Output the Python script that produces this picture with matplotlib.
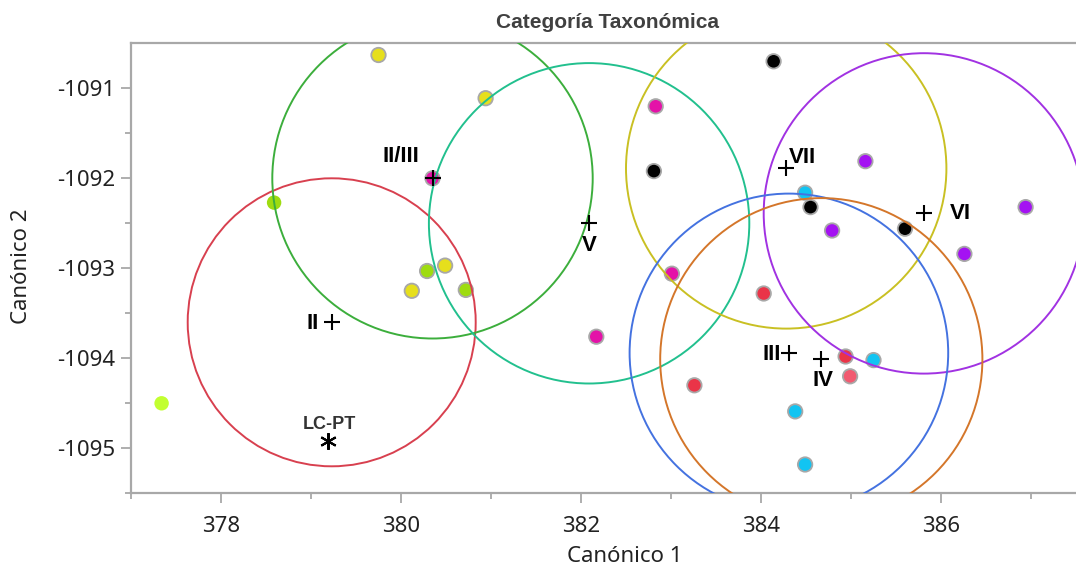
import matplotlib
matplotlib.use("Agg")
import matplotlib.pyplot as plt
from matplotlib.patches import Circle

plt.rcParams["axes.unicode_minus"] = False

# Group means on the two canonical axes, with their confidence-circle radii
groups = ["II", "II/III", "V", "VII", "VI", "III", "IV"]
mean_x = [379.23, 380.35, 382.09, 384.28, 385.81, 384.31, 384.67]
mean_y = [-1093.60, -1092.00, -1092.50, -1091.89, -1092.39, -1093.94, -1094.01]
radius = [1.60, 1.78, 1.78, 1.78, 1.78, 1.77, 1.79]
circle_colors = ["#d8404f", "#3cae3c", "#22c08e", "#c9c023", "#a132e2", "#4472e0", "#d4762a"]

# Individual specimens
pt_x = [379.75, 380.94, 380.49, 380.12,
        378.59, 380.29, 380.72, 377.34,
        380.35, 382.83, 383.01, 382.17,
        384.14, 382.81, 384.55, 385.60,
        384.49, 385.25, 384.38, 384.49,
        385.16, 384.79, 386.94, 386.26,
        384.03, 383.26, 384.94, 384.99]
pt_y = [-1090.63, -1091.11, -1092.97, -1093.25,
        -1092.27, -1093.03, -1093.24, -1094.50,
        -1092.00, -1091.20, -1093.06, -1093.76,
        -1090.70, -1091.92, -1092.32, -1092.56,
        -1092.16, -1094.02, -1094.59, -1095.18,
        -1091.81, -1092.58, -1092.32, -1092.84,
        -1093.28, -1094.30, -1093.98, -1094.20]
pt_colors = ["#e6df1c"] * 4 + ["#9edc10", "#9edc10", "#9edc10", "#c2ff30"] \
    + ["#e412a8"] * 4 + ["#000000"] * 4 + ["#12c4f2"] * 4 \
    + ["#a412f2"] * 4 + ["#ea3448", "#ea3448", "#ea3448", "#f25a70"]
pt_edges = ["#a8a8a8"] * 4 + ["none", "#a8a8a8", "#a8a8a8", "none"] + ["#a8a8a8"] * 20

# Reference specimen
ref_x, ref_y, ref_label = 379.19, -1094.92, "LC-PT"

# label offsets in points and horizontal alignment
label_offsets = [(-9, -1), (-23, 16), (0, -16), (12, 8), (26, 0), (-6, -1), (1, -15)]
label_ha = ["right", "center", "center", "center", "center", "right", "center"]

fig = plt.figure(figsize=(10.76, 5.70), dpi=100)
ax = fig.add_axes([131 / 1076, 76.7 / 570, 945 / 1076, 450 / 570])

ax.scatter(pt_x, pt_y, s=108, c=pt_colors, edgecolors=pt_edges, linewidths=1.3, zorder=2)

for gx, gy, r, col in zip(mean_x, mean_y, radius, circle_colors):
    ax.add_patch(Circle((gx, gy), r, fill=False, edgecolor=col, lw=1.4, zorder=3))

ax.plot(mean_x, mean_y, ls="none", marker="+", ms=12, mew=1.5, color="black", zorder=4)
for name, gx, gy, off, ha in zip(groups, mean_x, mean_y, label_offsets, label_ha):
    ax.annotate(name, (gx, gy), xytext=off, textcoords="offset points",
                ha=ha, va="center", fontsize=16, fontweight="bold",
                family="Liberation Sans", color="black", zorder=5)

ax.plot([ref_x], [ref_y], ls="none", marker=(6, 2, 0), ms=12, mew=1.5, color="black", zorder=4)
ax.annotate(ref_label, (ref_x, ref_y), xytext=(1, 12), textcoords="offset points",
            ha="center", va="center", fontsize=13, fontweight="bold",
            family="Liberation Sans", color="#333333", zorder=5)

ax.set_xlim(377, 387.5)
ax.set_ylim(-1095.5, -1090.5)
ax.set_aspect("equal", adjustable="box")

ax.set_xticks([378, 380, 382, 384, 386])
ax.set_xticks([377, 379, 381, 383, 385, 387], minor=True)
ax.set_yticks([-1095, -1094, -1093, -1092, -1091])
ax.set_yticks([-1095.5, -1094.5, -1093.5, -1092.5, -1091.5], minor=True)
ax.tick_params(which="major", length=7.5, width=1.3, color="#a8a8a8", labelsize=16, pad=4)
ax.tick_params(axis="x", which="major", pad=9)
ax.tick_params(which="minor", length=4, width=1.3, color="#a8a8a8")
for lab in ax.get_xticklabels() + ax.get_yticklabels():
    lab.set_family("Noto Sans")
    lab.set_color("#222222")

for side in ["left", "bottom", "top"]:
    ax.spines[side].set_color("#a8a8a8")
    ax.spines[side].set_linewidth(1.6)
ax.spines["right"].set_visible(False)

fig.text(608 / 1076, 1 - 22 / 570, "Categoría Taxonómica", ha="center", va="center",
         fontsize=15, fontweight="bold", family="Liberation Sans", color="#404040")
fig.text(625 / 1076, 1 - 557 / 570, "Canónico 1", ha="center", va="center",
         fontsize=16, family="Noto Sans", color="#222222")
fig.text(22 / 1076, 1 - 266 / 570, "Canónico 2", ha="center", va="center", rotation=90,
         fontsize=16, family="Noto Sans", color="#222222")

fig.savefig("out.png", dpi=100)
plt.close(fig)
